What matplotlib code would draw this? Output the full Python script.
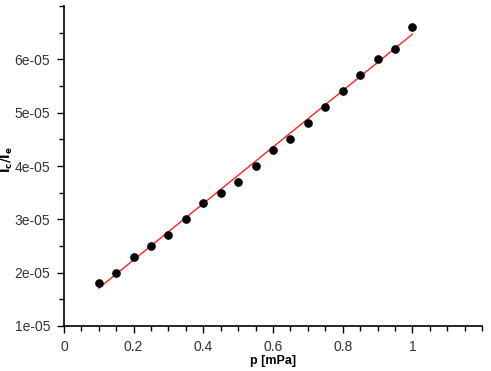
import matplotlib
matplotlib.use("Agg")
import matplotlib.pyplot as plt
from matplotlib.ticker import MultipleLocator, FuncFormatter

# measured points
p_mpa = [0.10, 0.15, 0.20, 0.25, 0.30, 0.35, 0.40, 0.45, 0.50, 0.55,
         0.60, 0.65, 0.70, 0.75, 0.80, 0.85, 0.90, 0.95, 1.00]
ratio = [1.80e-5, 2.00e-5, 2.30e-5, 2.50e-5, 2.70e-5, 3.00e-5, 3.30e-5,
         3.50e-5, 3.70e-5, 4.00e-5, 4.30e-5, 4.50e-5, 4.80e-5, 5.10e-5,
         5.40e-5, 5.70e-5, 6.00e-5, 6.20e-5, 6.60e-5]

# fitted line (end points)
fit_p = [0.10, 1.00]
fit_ratio = [1.71e-5, 6.47e-5]

x_ticks = [0, 0.2, 0.4, 0.6, 0.8, 1.0]
y_ticks = [1e-5, 2e-5, 3e-5, 4e-5, 5e-5, 6e-5]

plt.rcParams["font.family"] = ["Liberation Sans", "DejaVu Sans"]

fig = plt.figure(figsize=(4.91, 3.71), dpi=100)
ax = fig.add_axes([0.1303, 0.1213, 0.8514, 0.8625])

ax.plot(fit_p, fit_ratio, color="#ff2020", lw=1.0, zorder=2)
ax.plot(p_mpa, ratio, "o", color="black", ms=5.2, zorder=3)

ax.set_xticks(x_ticks)
ax.set_yticks(y_ticks)
ax.xaxis.set_minor_locator(MultipleLocator(0.05))
ax.yaxis.set_minor_locator(MultipleLocator(0.5e-5))
ax.xaxis.set_major_formatter(FuncFormatter(lambda v, _: "0" if abs(v) < 1e-9 else f"{v:g}"))
ax.yaxis.set_major_formatter(FuncFormatter(lambda v, _: f"{v:.0e}"))
ax.set_xlim(0, 1.2)
ax.set_ylim(1e-5, 7e-5)

for s in ("top", "right"):
    ax.spines[s].set_visible(False)
for s in ("left", "bottom"):
    ax.spines[s].set_linewidth(1.2)

ax.tick_params(which="major", direction="out", length=5, width=1.0,
               labelsize=10, labelcolor="#333333", pad=5)
ax.tick_params(which="minor", direction="out", length=3.5, width=1.0)

ax.set_xlabel("p [mPa]", fontsize=9, fontweight="bold", labelpad=1)
ax.set_ylabel(r"$\mathbf{I_c/I_e}$", fontsize=9)
ax.yaxis.set_label_coords(-0.116, 0.52)

fig.savefig("out.png", dpi=100)
